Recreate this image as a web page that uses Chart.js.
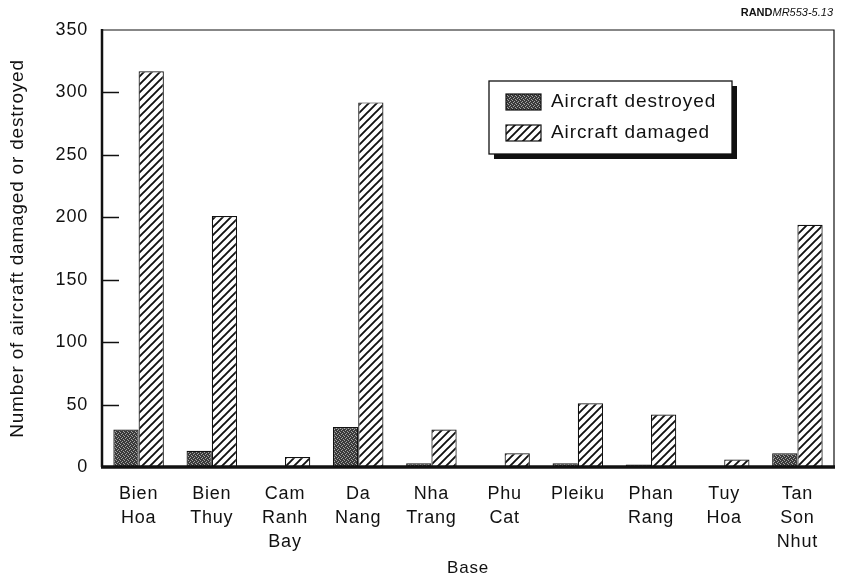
<!DOCTYPE html>
<html>
<head>
<meta charset="utf-8">
<script src="https://cdn.jsdelivr.net/npm/chart.js@4/dist/chart.umd.min.js"></script>
<style>
  html,body{margin:0;padding:0;background:#fff;}
  #wrap{width:841px;height:579px;position:relative;}
</style>
</head>
<body>
<div id="wrap"><canvas id="ch" width="841" height="579"></canvas></div>
<script>
const bases = [['Bien','Hoa'],['Bien','Thuy'],['Cam','Ranh','Bay'],['Da','Nang'],['Nha','Trang'],['Phu','Cat'],['Pleiku'],['Phan','Rang'],['Tuy','Hoa'],['Tan','Son','Nhut']];
const destroyed = [30,13,0,32,3,0,3,2,1,11];
const damaged = [317,201,8,292,30,11,51,42,6,194];
const yTicks = [0,50,100,150,200,250,300,350];
const seriesNames = ['Aircraft destroyed','Aircraft damaged'];

const FONT = '"Liberation Sans", Helvetica, Arial, sans-serif';
const canvas = document.getElementById('ch');
const ctx = canvas.getContext('2d');

function stipple(){
  const c = document.createElement('canvas'); c.width = c.height = 4;
  const g = c.getContext('2d');
  g.fillStyle = '#3a3a3a'; g.fillRect(0,0,4,4);
  g.fillStyle = '#a4a4a4';
  g.fillRect(0,0,1,1); g.fillRect(2,1,1,1); g.fillRect(1,2,1,1); g.fillRect(3,3,1,1);
  return ctx.createPattern(c,'repeat');
}
function hatch(){
  const s = 8;
  const c = document.createElement('canvas'); c.width = c.height = s;
  const g = c.getContext('2d');
  g.fillStyle = '#fff'; g.fillRect(0,0,s,s);
  g.strokeStyle = '#111'; g.lineWidth = 1.9;
  g.beginPath();
  g.moveTo(-1,s+1); g.lineTo(s+1,-1);
  g.moveTo(-s/2-1,s/2+1); g.lineTo(s/2+1,-s/2-1);
  g.moveTo(s/2-1,s*1.5+1); g.lineTo(s*1.5+1,s/2-1);
  g.stroke();
  return ctx.createPattern(c,'repeat');
}
const fills = [stipple(), hatch()];

// the scanned Helvetica runs a bit wide
const spacing = {
  id:'spacing',
  beforeUpdate(chart){ chart.ctx.letterSpacing = '0.8px'; },
  beforeDraw(chart){ chart.ctx.letterSpacing = '0.8px'; }
};

// frame, inner ticks, legend box, corner note
const decor = {
  id:'decor',
  afterDatasetsDraw(chart){
    const {ctx, chartArea:a, scales:{y}} = chart;
    ctx.save();
    ctx.strokeStyle = '#111';
    ctx.lineWidth = 1.2;
    ctx.beginPath();
    ctx.moveTo(a.left, a.top); ctx.lineTo(a.right, a.top); ctx.lineTo(a.right, a.bottom);
    ctx.stroke();
    ctx.lineWidth = 2.5;
    ctx.beginPath(); ctx.moveTo(a.left, a.top-1); ctx.lineTo(a.left, a.bottom); ctx.stroke();
    ctx.lineWidth = 3.5;
    ctx.beginPath(); ctx.moveTo(a.left-1, a.bottom); ctx.lineTo(a.right+1, a.bottom); ctx.stroke();
    // inner ticks
    ctx.lineWidth = 1.5;
    yTicks.forEach(v => {
      if (v === 0 || v === 350) return;
      const py = Math.round(y.getPixelForValue(v)) + 0.5;
      ctx.beginPath(); ctx.moveTo(a.left, py); ctx.lineTo(a.left + 17, py); ctx.stroke();
    });
    // legend
    const lx = 489, ly = 81, lw = 243, lh = 73;
    ctx.fillStyle = '#111';
    ctx.fillRect(lx + 5, ly + 5, lw, lh);
    ctx.fillStyle = '#fff';
    ctx.fillRect(lx, ly, lw, lh);
    ctx.lineWidth = 1.3;
    ctx.strokeRect(lx, ly, lw, lh);
    seriesNames.forEach((n, i) => {
      const sy = ly + 13 + i * 31;
      ctx.fillStyle = fills[i];
      ctx.fillRect(lx + 17, sy, 35, 16);
      ctx.lineWidth = 1.2; ctx.strokeStyle = '#111';
      ctx.strokeRect(lx + 17, sy, 35, 16);
      ctx.fillStyle = '#111';
      ctx.font = '19px ' + FONT;
      ctx.letterSpacing = '0.9px';
      ctx.textBaseline = 'middle'; ctx.textAlign = 'left';
      ctx.fillText(n, lx + 62, sy + 8);
    });
    // corner note
    ctx.letterSpacing = '0px';
    ctx.textBaseline = 'alphabetic'; ctx.textAlign = 'left';
    ctx.font = 'italic 11px ' + FONT;
    const t2 = 'MR553-5.13';
    const w2 = ctx.measureText(t2).width;
    ctx.font = 'bold 11px ' + FONT;
    const t1 = 'RAND';
    const w1 = ctx.measureText(t1).width;
    const x0 = 833 - w1 - w2;
    ctx.fillText(t1, x0, 16);
    ctx.font = 'italic 11px ' + FONT;
    ctx.fillText(t2, x0 + w1, 16);
    ctx.restore();
  }
};

new Chart(canvas, {
  type:'bar',
  data:{
    labels: bases,
    datasets:[
      { label: seriesNames[0], data: destroyed, backgroundColor: fills[0], borderColor:'#111', borderWidth:1.2 },
      { label: seriesNames[1], data: damaged, backgroundColor: fills[1], borderColor:'#111', borderWidth:1.2 }
    ]
  },
  options:{
    responsive:false,
    animation:false,
    events:[],
    layout:{ padding:{ top:30, right:7, left:0, bottom:0 } },
    datasets:{ bar:{ categoryPercentage:0.69, barPercentage:1 } },
    plugins:{ legend:{display:false}, tooltip:{enabled:false} },
    scales:{
      x:{
        grid:{ display:false },
        border:{ display:false },
        ticks:{ color:'#111', font:{ family:FONT, size:18, lineHeight:1.33 }, padding:7, maxRotation:0, autoSkip:false },
        title:{ display:true, text:'Base', color:'#111', font:{ family:FONT, size:17 }, padding:{ top:4, bottom:0 } },
        afterFit(s){ s.height = 112; }
      },
      y:{
        min:0, max:350,
        afterBuildTicks(s){ s.ticks = yTicks.map(v => ({ value:v })); },
        grid:{ display:false },
        border:{ display:false },
        ticks:{ color:'#111', font:{ family:FONT, size:18 }, padding:6 },
        title:{ display:true, text:'Number of aircraft damaged or destroyed', color:'#111', font:{ family:FONT, size:19 }, padding:{ top:6, bottom:8 } },
        afterFit(s){ s.width = 102; }
      }
    }
  },
  plugins:[spacing, decor]
});
</script>
</body>
</html>
